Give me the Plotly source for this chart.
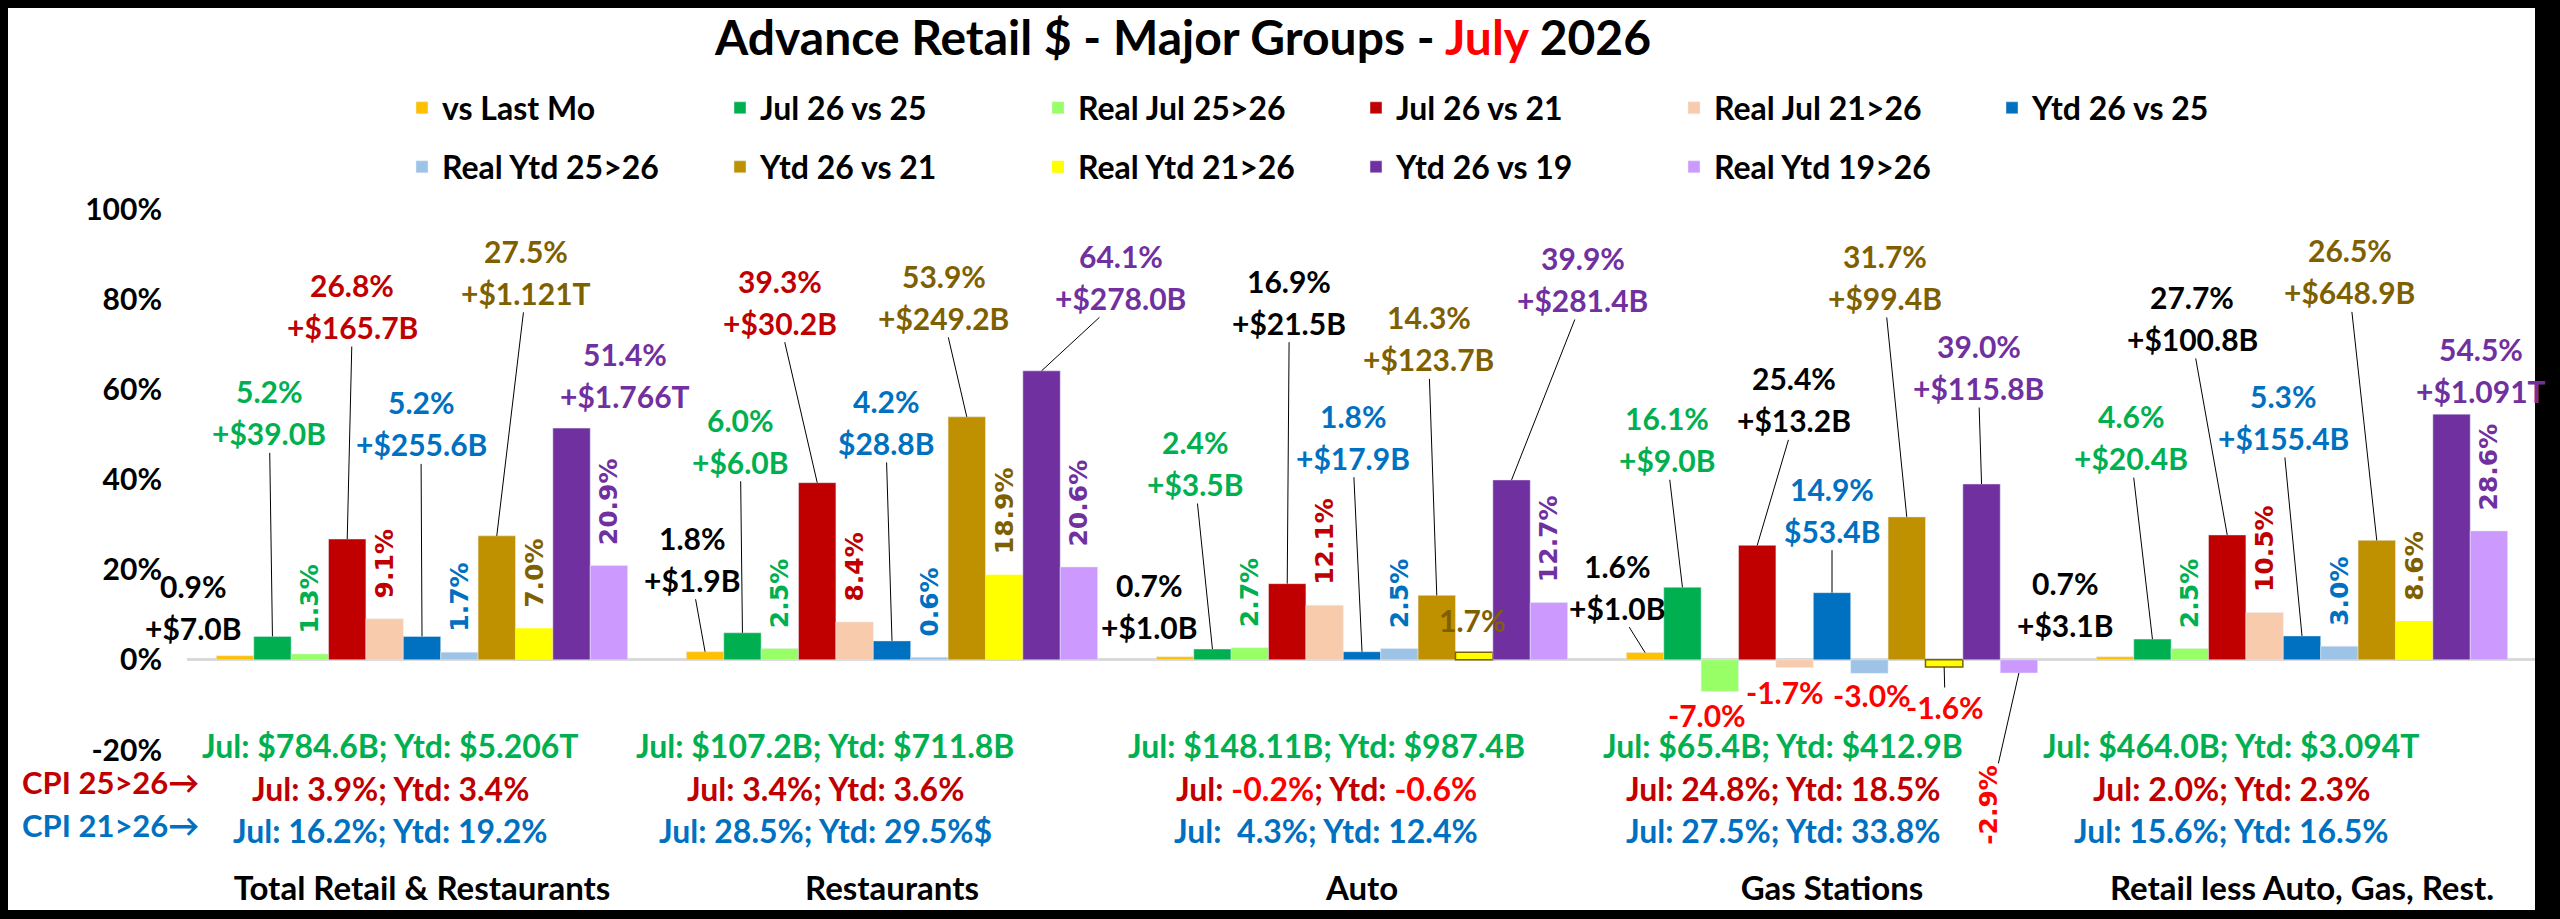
import plotly.graph_objects as go

# ---------------- data ----------------
categories = ["Total Retail & Restaurants", "Restaurants", "Auto", "Gas Stations",
              "Retail less Auto, Gas, Rest."]

series_names = ["vs Last Mo", "Jul 26 vs 25", "Real Jul 25>26", "Jul 26 vs 21", "Real Jul 21>26",
                "Ytd 26 vs 25", "Real Ytd 25>26", "Ytd 26 vs 21", "Real Ytd 21>26",
                "Ytd 26 vs 19", "Real Ytd 19>26"]

vs_last_mo = [0.9, 1.8, 0.7, 1.6, 0.7]
jul_vs_25 = [5.2, 6.0, 2.4, 16.1, 4.6]
real_jul_25_26 = [1.3, 2.5, 2.7, -7.0, 2.5]
jul_vs_21 = [26.8, 39.3, 16.9, 25.4, 27.7]
real_jul_21_26 = [9.1, 8.4, 12.1, -1.7, 10.5]
ytd_vs_25 = [5.2, 4.2, 1.8, 14.9, 5.3]
real_ytd_25_26 = [1.7, 0.6, 2.5, -3.0, 3.0]
ytd_vs_21 = [27.5, 53.9, 14.3, 31.7, 26.5]
real_ytd_21_26 = [7.0, 18.9, 1.7, -1.6, 8.6]
ytd_vs_19 = [51.4, 64.1, 39.9, 39.0, 54.5]
real_ytd_19_26 = [20.9, 20.6, 12.7, -2.9, 28.6]

vs_last_mo_usd = ["+$7.0B", "+$1.9B", "+$1.0B", "+$1.0B", "+$3.1B"]
jul_vs_25_usd = ["+$39.0B", "+$6.0B", "+$3.5B", "+$9.0B", "+$20.4B"]
jul_vs_21_usd = ["+$165.7B", "+$30.2B", "+$21.5B", "+$13.2B", "+$100.8B"]
ytd_vs_25_usd = ["+$255.6B", "$28.8B", "+$17.9B", "$53.4B", "+$155.4B"]
ytd_vs_21_usd = ["+$1.121T", "+$249.2B", "+$123.7B", "+$99.4B", "+$648.9B"]
ytd_vs_19_usd = ["+$1.766T", "+$278.0B", "+$281.4B", "+$115.8B", "+$1.091T"]

sales_jul = ["$784.6B", "$107.2B", "$148.11B", "$65.4B", "$464.0B"]
sales_ytd = ["$5.206T", "$711.8B", "$987.4B", "$412.9B", "$3.094T"]
cpi_25_26_jul = [3.9, 3.4, -0.2, 24.8, 2.0]
cpi_25_26_ytd = [3.4, 3.6, -0.6, 18.5, 2.3]
cpi_21_26_jul = [16.2, 28.5, 4.3, 27.5, 15.6]
cpi_21_26_ytd = [19.2, 29.5, 12.4, 33.8, 16.5]
cpi_21_26_note = ["", "$", "", "", ""]

y_tick_values = [-20, 0, 20, 40, 60, 80, 100]
y_tick_labels = ["-20%", "0%", "20%", "40%", "60%", "80%", "100%"]

series_values = [vs_last_mo, jul_vs_25, real_jul_25_26, jul_vs_21, real_jul_21_26, ytd_vs_25,
                 real_ytd_25_26, ytd_vs_21, real_ytd_21_26, ytd_vs_19, real_ytd_19_26]
usd_labels = {0: vs_last_mo_usd, 1: jul_vs_25_usd, 3: jul_vs_21_usd, 5: ytd_vs_25_usd,
              7: ytd_vs_21_usd, 9: ytd_vs_19_usd}

# ---------------- styles ----------------
FONT = "Lato"
VFONT = "DejaVu Sans"
BAR_COLORS = ["#FFC000", "#00B050", "#99FF66", "#C00000", "#F8CBAD", "#0070C0", "#9DC3E6",
              "#BF9000", "#FFFF00", "#7030A0", "#CC99FF"]
GREEN, RED, BLUE, OLIVE, PURPLE = "#00B050", "#C00000", "#0070C0", "#7F6000", "#7030A0"
REAL_TEXT_COLORS = {2: GREEN, 4: RED, 6: BLUE, 8: OLIVE, 10: PURPLE}
LABEL_COLORS = {0: ["#000000"] * 5, 1: [GREEN] * 5,
                3: [RED, RED, "#000000", "#000000", "#000000"],
                5: [BLUE] * 5, 7: [OLIVE] * 5, 9: [PURPLE] * 5}
# pixel offset (dx, dy) of the "$" line centre from its bar top, and whether a leader line is drawn
LABEL_POS = {
    0: [(-42, -28, False), (-13, -72, True), (-26, -30, False), (-28, -45, True), (-50, -32, False)],
    1: [(-3, -203, True), (-2, -171, True), (-17, -165, True), (-15, -127, True), (-21, -181, True)],
    3: [(5, -212, True), (-37, -160, True), (2, -261, True), (37, -125, True), (-35, -196, True)],
    5: [(-1, -192, True), (-6, -198, True), (-9, -194, True), (0, -62, True), (-19, -198, True)],
    7: [(29, -243, True), (-23, -99, True), (-8, -236, True), (-22, -219, True), (-27, -248, True)],
    9: [(53, -32, False), (79, -73, True), (71, -180, True), (-3, -96, True), (29, -23, False)],
}
LINE_GAP = 42
LABEL_SIZE = 30
# Real-series labels drawn horizontally / below the bar: (series, group) -> (dx, dy, leader, vertical)
SPECIAL_REAL = {
    (8, 2): (-2, -32, False, False),
    (2, 3): (-13, 24, False, False),
    (4, 3): (-10, 24, False, False),
    (6, 3): (3, 22, False, False),
    (8, 3): (1, 40, True, False),
    (10, 3): (-30, 132, True, True),
}
ROW_SHIFT = [-32, -67, -36, -49, -71]

W, H = 2560, 919
ML, MR, MT, MB = 187, 23, 209, 169
PW, PH = W - ML - MR, H - MT - MB
BARGAP = 0.125
NSER = len(series_names)
BW = (1 - BARGAP) / NSER


def px_x(px):
    return (px - ML) / PW


def px_y(py):
    return (H - MB - py) / PH


def bar_x(g, i):
    return g + (i - (NSER - 1) / 2) * BW


fig = go.Figure()
xs = list(range(len(categories)))
NBSP = "\u00a0"
for i, (name, vals) in enumerate(zip(series_names, series_values)):
    tr = dict(x=xs, y=vals, name=name, marker_color=BAR_COLORS[i],
              legend="legend" if i < 6 else "legend2", cliponaxis=False,
              hoverinfo="skip")
    if i in REAL_TEXT_COLORS:
        txt = []
        for g, v in enumerate(vals):
            txt.append("" if (i, g) in SPECIAL_REAL else NBSP * 2 + f"{v:.1f}%")
        tr.update(text=txt, textposition="outside", textangle=-90, constraintext="none",
                  textfont=dict(family=VFONT, size=25, color=REAL_TEXT_COLORS[i], weight="bold"))
    if i == 8:
        tr["marker_line"] = dict(color="#7F6000", width=[0, 0, 1.5, 1.5, 0])
    fig.add_trace(go.Bar(**tr))

ann = []
# two-line value labels with leader lines
for i, pos in LABEL_POS.items():
    vals = series_values[i]
    for g, (dx, dy, leader) in enumerate(pos):
        v = vals[g]
        col = LABEL_COLORS[i][g]
        f = dict(family=FONT, size=LABEL_SIZE, color=col, weight="bold")
        x0 = bar_x(g, i)
        ann.append(dict(x=x0, y=v, xref="x", yref="y", text=f"{v:.1f}%", showarrow=False,
                        xshift=dx, yshift=LINE_GAP - dy, font=f, xanchor="center", yanchor="middle"))
        if leader:
            ann.append(dict(x=x0, y=v, xref="x", yref="y", text=usd_labels[i][g], showarrow=True,
                            ax=dx, ay=dy, arrowhead=0, arrowwidth=1, arrowcolor="#000000",
                            standoff=0, font=f))
        else:
            ann.append(dict(x=x0, y=v, xref="x", yref="y", text=usd_labels[i][g], showarrow=False,
                            xshift=dx, yshift=-dy, font=f, xanchor="center", yanchor="middle"))

# special real labels
for (i, g), (dx, dy, leader, vertical) in SPECIAL_REAL.items():
    v = series_values[i][g]
    col = "#FF0000" if v < 0 else REAL_TEXT_COLORS[i]
    f = dict(family=VFONT if vertical else FONT, size=25 if vertical else LABEL_SIZE,
             color=col, weight="bold")
    a = dict(x=bar_x(g, i), y=v, xref="x", yref="y", text=f"{v:.1f}%", font=f,
             textangle=-90 if vertical else 0)
    if leader:
        a.update(showarrow=True, ax=dx, ay=dy, arrowhead=0, arrowwidth=1, arrowcolor="#000000", standoff=0)
    else:
        a.update(showarrow=False, xshift=dx, yshift=-dy, xanchor="center", yanchor="middle")
    ann.append(a)


def pct_span(v, c_neg, c_pos):
    c = c_neg if v < 0 else c_pos
    return f"<span style='color:{c}'>{v:.1f}%</span>"


ROW_SIZE = 32
for g in range(len(categories)):
    jul21 = f"{cpi_21_26_jul[g]:4.1f}".replace(" ", NBSP)
    rows = [
        (745, GREEN, f"Jul: {sales_jul[g]}; Ytd: {sales_ytd[g]}"),
        (788, RED, f"Jul: {pct_span(cpi_25_26_jul[g], '#FF0000', RED)}; "
                   f"Ytd: {pct_span(cpi_25_26_ytd[g], '#FF0000', RED)}"),
        (830, BLUE, f"Jul: {jul21}%; Ytd: {cpi_21_26_ytd[g]:.1f}%{cpi_21_26_note[g]}"),
    ]
    for py, col, t in rows:
        ann.append(dict(x=g, y=px_y(py), xref="x", yref="paper", text=t, showarrow=False,
                        xshift=ROW_SHIFT[g], xanchor="center", yanchor="middle",
                        font=dict(family=FONT, size=ROW_SIZE, color=col, weight="bold")))

ann.append(dict(x=px_x(110), y=px_y(782), xref="paper", yref="paper", text="CPI 25>26\u2192",
                showarrow=False, xanchor="center", yanchor="middle",
                font=dict(family=FONT, size=31, color=RED, weight="bold")))
ann.append(dict(x=px_x(110), y=px_y(825), xref="paper", yref="paper", text="CPI 21>26\u2192",
                showarrow=False, xanchor="center", yanchor="middle",
                font=dict(family=FONT, size=31, color=BLUE, weight="bold")))

# black frame
frame = [(0, 0, W, 8), (0, 0, 8, H), (W - 25, 0, W, H), (0, H - 9, W, H)]
shapes = [dict(type="rect", xref="paper", yref="paper", x0=px_x(a), x1=px_x(c), y0=px_y(d), y1=px_y(b),
               fillcolor="#000000", line=dict(width=0), layer="above") for a, b, c, d in frame]

legend_font = dict(family=FONT, size=32, color="#000000", weight="bold")
fig.update_layout(
    width=W, height=H, autosize=False,
    margin=dict(l=ML, r=MR, t=MT, b=MB, pad=0),
    paper_bgcolor="white", plot_bgcolor="white",
    barmode="group", bargap=BARGAP, bargroupgap=0,
    title=dict(text="Advance Retail $ - Major Groups - <span style='color:#FF0000'>July</span> 2026",
               x=1183 / W, xref="container", xanchor="center",
               y=1 - 38 / H, yref="container", yanchor="middle",
               font=dict(family=FONT, size=48, color="#000000", weight="bold")),
    legend=dict(orientation="h", x=px_x(402), xanchor="left", y=px_y(108), yanchor="middle",
                entrywidth=273, entrywidthmode="pixels", font=legend_font,
                bgcolor="rgba(0,0,0,0)", traceorder="normal"),
    legend2=dict(orientation="h", x=px_x(402), xanchor="left", y=px_y(167), yanchor="middle",
                 entrywidth=273, entrywidthmode="pixels", font=legend_font,
                 bgcolor="rgba(0,0,0,0)", traceorder="normal"),
    xaxis=dict(range=[-0.5, len(categories) - 0.5], tickvals=xs, ticktext=categories,
               showgrid=False, zeroline=False, showline=False, ticks="",
               tickfont=dict(family=FONT, size=33, color="#000000", weight="bold"),
               ticklabelstandoff=116, fixedrange=True),
    yaxis=dict(range=[-20, 100], tickvals=y_tick_values, ticktext=y_tick_labels,
               showgrid=False, zeroline=True, zerolinecolor="#D9D9D9", zerolinewidth=3,
               showline=False, ticks="",
               tickfont=dict(family=FONT, size=30, color="#000000", weight="bold"),
               ticklabelstandoff=24, fixedrange=True),
    annotations=ann, shapes=shapes, showlegend=True,
)

fig.write_html("out.html", config={"displayModeBar": False},
               post_script="document.body.style.margin='0px';")
